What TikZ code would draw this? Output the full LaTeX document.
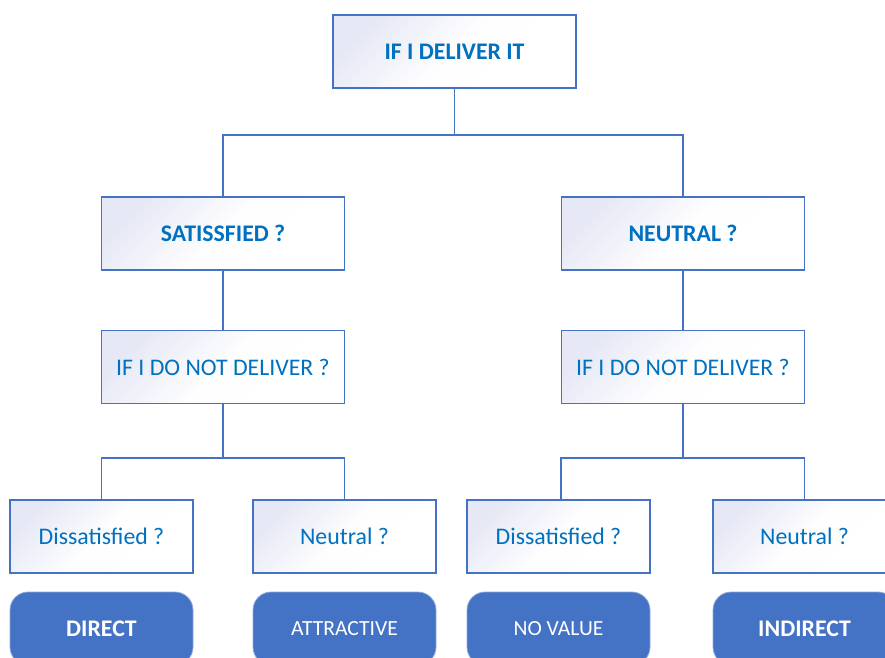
\documentclass[tikz,border=0pt]{standalone}
\usepackage{fontspec}
\setmainfont{Carlito}
\definecolor{bordblue}{HTML}{4472C4}
\definecolor{txtblue}{HTML}{0070C0}
\definecolor{lav}{HTML}{E6E8F5}
\begin{document}
\begin{tikzpicture}[x=1pt,y=-1pt,
  qbox/.style={draw=bordblue, line width=1.7pt, top color=lav, bottom color=white, middle color=white!96!lav, shading angle=45,
    minimum width=243pt, minimum height=73pt, inner sep=0pt, text=txtblue, font=\fontsize{23.8}{28}\selectfont},
  boldq/.style={font=\fontsize{23.8}{28}\selectfont\bfseries},
  sbox/.style={qbox, minimum width=183pt},
  rbox/.style={fill=bordblue, draw=bordblue!60!white, line width=0.8pt, rounded corners=18pt,
    minimum width=183pt, minimum height=73pt, inner sep=0pt, text=white, font=\fontsize{21.6}{26}\selectfont},
  conn/.style={draw=bordblue, line width=1.7pt}]
\useasboundingbox (0,0) rectangle (885,657);
\clip (0,0) rectangle (885,657);
\node[qbox, boldq] (top) at (454.5,51.5) {IF I DELIVER IT};
\node[qbox, boldq] (sat) at (223,233.5) {SATISSFIED ?};
\node[qbox, boldq] (neu) at (683,233.5) {NEUTRAL ?};
\node[qbox] (ndl) at (223,367) {IF I DO NOT DELIVER ?};
\node[qbox] (ndr) at (683,367) {IF I DO NOT DELIVER ?};
\node[sbox] (dl) at (101.5,536.5) {Dissatisfied ?};
\node[sbox] (nl) at (344.5,536.5) {Neutral ?};
\node[sbox] (dr) at (558.5,536.5) {Dissatisfied ?};
\node[sbox] (nr) at (804.5,536.5) {Neutral ?};
\node[rbox, font=\fontsize{23.8}{28}\selectfont\bfseries] (direct) at (101.5,628.5) {DIRECT};
\node[rbox] (attr) at (344.5,628.5) {ATTRACTIVE};
\node[rbox] (noval) at (558.5,628.5) {NO VALUE};
\node[rbox, font=\fontsize{23.8}{28}\selectfont\bfseries] (indir) at (804.5,628.5) {INDIRECT};
\coordinate (j1) at (454.5,135);
\coordinate (j2) at (223,458);
\coordinate (j3) at (683,458);
\draw[conn] (top.south) -- (j1);
\draw[conn] (j1) -| (sat.north);
\draw[conn] (j1) -| (neu.north);
\draw[conn] (sat.south) -- (ndl.north);
\draw[conn] (neu.south) -- (ndr.north);
\draw[conn] (ndl.south) -- (j2);
\draw[conn] (j2) -| (dl.north);
\draw[conn] (j2) -| (nl.north);
\draw[conn] (ndr.south) -- (j3);
\draw[conn] (j3) -| ([xshift=2.5pt]dr.north);
\draw[conn] (j3) -| (nr.north);
\end{tikzpicture}
\end{document}
